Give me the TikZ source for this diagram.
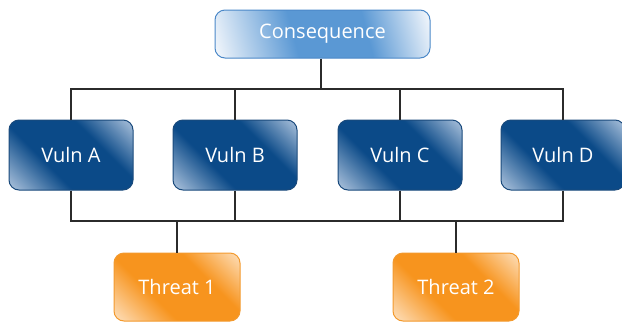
\documentclass[tikz,border=0pt]{standalone}
\usepackage{fontspec}
\setmainfont{Open Sans}
\definecolor{vbase}{HTML}{0B4A88}
\definecolor{vlight}{HTML}{C2D3E8}
\definecolor{vborder}{HTML}{1A4A7C}
\definecolor{cbase}{HTML}{5A98D4}
\definecolor{clight}{HTML}{F0F5FB}
\definecolor{cborder}{HTML}{4B88C8}
\definecolor{tbase}{HTML}{F7941E}
\definecolor{tlight}{HTML}{FEE9D0}
\definecolor{tborder}{HTML}{F39A2E}
\definecolor{wire}{HTML}{2B2B2B}
\pgfdeclarehorizontalshading{vshade}{100bp}{color(0bp)=(vlight); color(12bp)=(vlight); color(38bp)=(vbase); color(64bp)=(vbase); color(88bp)=(vlight); color(100bp)=(vlight)}
\pgfdeclarehorizontalshading{tshade}{100bp}{color(0bp)=(tlight); color(12bp)=(tlight); color(38bp)=(tbase); color(64bp)=(tbase); color(88bp)=(tlight); color(100bp)=(tlight)}
\pgfdeclarehorizontalshading{cshade}{100bp}{color(0bp)=(clight); color(20bp)=(clight); color(42bp)=(cbase); color(62bp)=(cbase); color(80bp)=(clight); color(100bp)=(clight)}
\tikzset{
  box/.style={rounded corners=10pt, text=white, font=\fontsize{20}{22}\selectfont, inner sep=0pt, line width=1pt},
  vbox/.style={box, draw=vborder, shading=vshade, shading angle=45, minimum width=124pt, minimum height=70pt},
  tbox/.style={box, draw=tborder, shading=tshade, shading angle=45, minimum width=126pt, minimum height=68pt},
  cbox/.style={box, draw=cborder, shading=cshade, shading angle=15, minimum width=215pt, minimum height=48pt},
  wireline/.style={draw=wire, line width=2pt}
}
\begin{document}
\begin{tikzpicture}[x=1pt,y=-1pt]
\useasboundingbox (0,0) rectangle (622,322);
\node[cbox] (cons) at (322.5,34) {Consequence};
\node[vbox] (va) at (71,155) {Vuln A};
\node[vbox] (vb) at (235,155) {Vuln B};
\node[vbox] (vc) at (400,155) {Vuln C};
\node[vbox] (vd) at (563,155) {Vuln D};
\node[tbox] (t1) at (177,287) {Threat 1};
\node[tbox] (t2) at (456,287) {Threat 2};
\coordinate (topbus) at (321,89);
\coordinate (b1) at (177,221);
\coordinate (b2) at (456,221);
\draw[wireline] (cons.south -| topbus) -- (topbus);
\draw[wireline] (va.north) |- (topbus);
\draw[wireline] (vd.north) |- (topbus);
\draw[wireline] (vb.north) -- (vb.north |- topbus);
\draw[wireline] (vc.north) -- (vc.north |- topbus);
\draw[wireline] (va.south) |- (b1);
\draw[wireline] (vd.south) |- (b1);
\draw[wireline] (vb.south) -- (vb.south |- b1);
\draw[wireline] (vc.south) -- (vc.south |- b1);
\draw[wireline] (t1.north) -- (b1);
\draw[wireline] (t2.north) -- (b2);
\end{tikzpicture}
\end{document}
